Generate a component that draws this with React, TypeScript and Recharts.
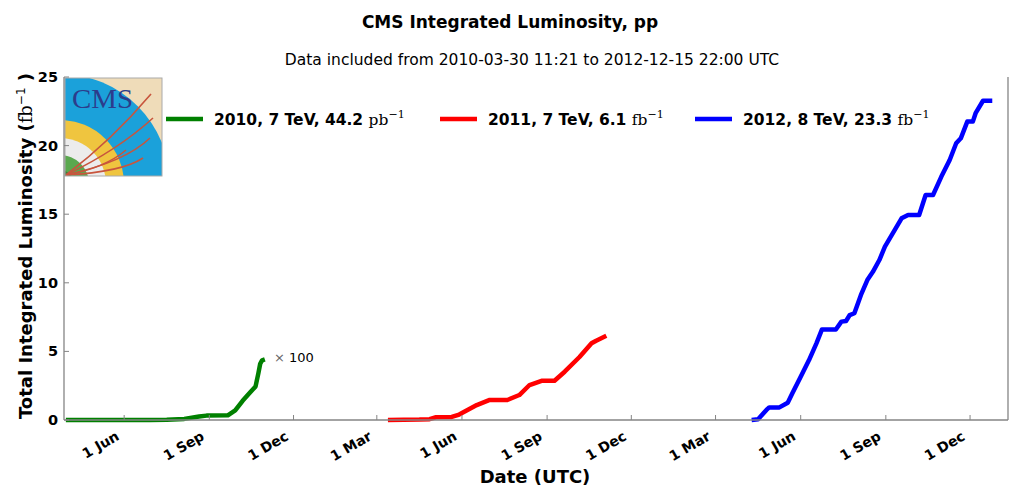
import React from 'react';
import { LineChart, Line, XAxis, YAxis, Customized } from 'recharts';

// ---------- data ----------
const dates2010 = ['2010-03-30','2010-06-29','2010-07-17','2010-08-05','2010-08-21','2010-08-29','2010-09-21','2010-09-29','2010-10-07','2010-10-15','2010-10-21','2010-10-24','2010-10-26','2010-10-28','2010-10-31'];
// 2010 values shown x100 (fb^-1 * 100)
const lumi2010x100 = [0, 0.005, 0.02, 0.08, 0.25, 0.32, 0.34, 0.7, 1.4, 2.0, 2.45, 3.4, 4.1, 4.35, 4.42];

const dates2011 = ['2011-03-13','2011-04-16','2011-04-27','2011-05-04','2011-05-21','2011-05-29','2011-06-17','2011-07-01','2011-07-20','2011-08-02','2011-08-13','2011-08-26','2011-09-09','2011-09-20','2011-10-06','2011-10-19','2011-10-24','2011-11-04'];
const lumi2011 = [0, 0.03, 0.06, 0.2, 0.22, 0.4, 1.09, 1.46, 1.46, 1.82, 2.55, 2.86, 2.86, 3.52, 4.59, 5.59, 5.78, 6.14];

const dates2012 = ['2012-04-09','2012-04-16','2012-04-25','2012-04-28','2012-05-09','2012-05-18','2012-05-23','2012-06-01','2012-06-10','2012-06-18','2012-06-24','2012-07-09','2012-07-15','2012-07-20','2012-07-24','2012-07-29','2012-08-05','2012-08-12','2012-08-18','2012-08-25','2012-08-31','2012-09-18','2012-09-25','2012-10-07','2012-10-14','2012-10-22','2012-10-31','2012-11-09','2012-11-16','2012-11-21','2012-11-28','2012-12-04','2012-12-07','2012-12-15','2012-12-25'];
const lumi2012 = [0, 0.05, 0.73, 0.92, 0.92, 1.26, 1.95, 3.16, 4.37, 5.59, 6.6, 6.6, 7.17, 7.22, 7.65, 7.78, 9.1, 10.2, 10.8, 11.66, 12.63, 14.7, 14.94, 14.94, 16.4, 16.4, 17.74, 18.95, 20.17, 20.53, 21.75, 21.75, 22.36, 23.27, 23.27];

const xTickDates = ['2010-06-01','2010-09-01','2010-12-01','2011-03-01','2011-06-01','2011-09-01','2011-12-01','2012-03-01','2012-06-01','2012-09-01','2012-12-01'];
const xTickLabels = ['1 Jun','1 Sep','1 Dec','1 Mar','1 Jun','1 Sep','1 Dec','1 Mar','1 Jun','1 Sep','1 Dec'];
const xDomainDates = ['2010-03-28', '2013-01-11'];
const yTicks = [0, 5, 10, 15, 20, 25];

const seriesNames = ['2010, 7 TeV, 44.2', '2011, 7 TeV, 6.1', '2012, 8 TeV, 23.3'];
const seriesUnits = ['pb', 'fb', 'fb'];
const seriesColors = ['#008000', '#ff0000', '#0000ff'];

// ---------- helpers ----------
const EPOCH = Date.UTC(2010, 5, 1);
const toDay = (s: string) => (Date.parse(s + 'T00:00:00Z') - EPOCH) / 86400000;
const mk = (ds: string[], vs: number[]) => ds.map((d, i) => ({ day: toDay(d), v: vs[i] }));

const data2010 = mk(dates2010, lumi2010x100);
const data2011 = mk(dates2011, lumi2011);
const data2012 = mk(dates2012, lumi2012);
const xTicks = xTickDates.map(toDay);
const xDomain = xDomainDates.map(toDay);

const AXIS = '#858585';
const FONT = '"DejaVu Sans", sans-serif';
const SERIF = '"DejaVu Serif", serif';

const labelFor = (v: number) => {
  const i = xTicks.findIndex((t) => Math.abs(t - v) < 0.01);
  return i >= 0 ? xTickLabels[i] : '';
};

const BottomTick = (p: any) => (
  <g>
    <line x1={p.x} x2={p.x} y1={p.y} y2={p.y - 5} stroke={AXIS} strokeWidth={1} />
    <text transform={`translate(${p.x - 4},${p.y + 19}) rotate(-30)`} textAnchor="end" fontFamily={FONT} fontWeight="bold" fontSize={14} fill="#000">
      {labelFor(p.payload.value)}
    </text>
  </g>
);
const TopTick = (p: any) => (
  <line x1={p.x} x2={p.x} y1={p.y} y2={p.y + 5} stroke={AXIS} strokeWidth={1} />
);
const LeftTick = (p: any) => (
  <g>
    <line x1={p.x} x2={p.x + 5} y1={p.y} y2={p.y} stroke={AXIS} strokeWidth={1} />
    <text x={p.x - 6} y={p.y + 5} textAnchor="end" fontFamily={FONT} fontWeight="bold" fontSize={14.5} fill="#000">{p.payload.value}</text>
  </g>
);
const RightTick = (p: any) => (
  <g>
    <line x1={p.x} x2={p.x - 5} y1={p.y} y2={p.y} stroke={AXIS} strokeWidth={1} />
    <text x={p.x + 5} y={p.y + 5} textAnchor="start" fontFamily={FONT} fontWeight="bold" fontSize={14.5} fill="#000">{p.payload.value}</text>
  </g>
);

const legendX = [166, 440, 695];

const Overlay = () => (
  <g fontFamily={FONT} fill="#000">
    <text x={510} y={28} textAnchor="middle" fontWeight="bold" fontSize={17}>CMS Integrated Luminosity, pp</text>
    <text x={532} y={65} textAnchor="middle" fontSize={15.5}>Data included from 2010-03-30 11:21 to 2012-12-15 22:00 UTC</text>
    <text x={535} y={483} textAnchor="middle" fontWeight="bold" fontSize={18}>Date (UTC)</text>
    <text transform="translate(32,246) rotate(-90)" textAnchor="middle" fontWeight="bold" fontSize={18}>
      Total Integrated Luminosity (<tspan fontFamily={SERIF} fontWeight="normal">fb</tspan>
      <tspan dy={-7} fontSize={12} fontWeight="normal">−1</tspan>
      <tspan dy={7}> )</tspan>
    </text>
    {/* legend */}
    {seriesNames.map((n, i) => (
      <g key={n}>
        <line x1={legendX[i]} x2={legendX[i] + 37} y1={119} y2={119} stroke={seriesColors[i]} strokeWidth={4.5} />
        <text x={legendX[i] + 48} y={125} fontWeight="bold" fontSize={15.5}>
          {n} <tspan fontFamily={SERIF} fontWeight="normal">{seriesUnits[i]}</tspan>
          <tspan dy={-7} fontSize={11} fontFamily={SERIF} fontWeight="normal">−1</tspan>
        </text>
      </g>
    ))}
    {/* x100 note */}
    <text x={274} y={362} fontSize={13}>
      <tspan fill="#666">×</tspan> 100
    </text>
    {/* CMS logo */}
    <defs>
      <clipPath id="logoClip">
        <rect x={65} y={78} width={97} height={98} />
      </clipPath>
    </defs>
    <g clipPath="url(#logoClip)">
      <rect x={65} y={78} width={97} height={98} fill="#efdcb9" />
      <circle cx={60} cy={184} r={110} fill="#1ba1da" />
      <circle cx={60} cy={184} r={64} fill="#efc53f" />
      <circle cx={60} cy={184} r={46} fill="#ececec" />
      <circle cx={60} cy={184} r={29} fill="#5aa84e" />
      <circle cx={60} cy={184} r={14} fill="#3f7f3a" />
      <g fill="none" stroke="#c8553d" strokeWidth={1.6}>
        <path d="M66 175 Q112 140 151 94" />
        <path d="M66 175 Q118 150 153 118" />
        <path d="M66 175 Q125 162 150 138" />
        <path d="M66 175 Q122 172 143 158" />
        <path d="M66 175 Q105 168 126 150" />
      </g>
      <text x={72} y={108} fontFamily='"Liberation Serif", "DejaVu Serif", serif' fontSize={27} fill="#2c3c8c" textLength={61} lengthAdjust="spacingAndGlyphs">CMS</text>
    </g>
    <rect x={65} y={78} width={97} height={98} fill="none" stroke="#aaa" strokeWidth={1} />
  </g>
);

export default function App() {
  return (
    <div style={{ position: 'absolute', left: 0, top: 0, width: 1036, height: 487, background: '#fff' }}>
      <LineChart width={1036} height={487} margin={{ top: 77, right: 4, bottom: 17, left: 20 }}>
        <XAxis
          xAxisId="bottom"
          dataKey="day"
          type="number"
          domain={xDomain}
          ticks={xTicks}
          interval={0}
          allowDataOverflow
          height={50}
          tickSize={0}
          tickMargin={0}
          tick={<BottomTick />}
          axisLine={{ stroke: AXIS, strokeWidth: 1.3 }}
        />
        <XAxis
          xAxisId="top"
          orientation="top"
          dataKey="day"
          type="number"
          domain={xDomain}
          ticks={xTicks}
          interval={0}
          allowDataOverflow
          height={0}
          tickSize={0}
          tickMargin={0}
          tick={<TopTick />}
          axisLine={{ stroke: AXIS, strokeWidth: 1.3 }}
        />
        <YAxis
          yAxisId="left"
          orientation="left"
          type="number"
          domain={[0, 25]}
          ticks={yTicks}
          interval={0}
          width={44}
          tickSize={0}
          tickMargin={0}
          tick={<LeftTick />}
          axisLine={{ stroke: AXIS, strokeWidth: 1.3 }}
        />
        <YAxis
          yAxisId="right"
          orientation="right"
          type="number"
          domain={[0, 25]}
          ticks={yTicks}
          interval={0}
          width={24}
          tickSize={0}
          tickMargin={0}
          tick={<RightTick />}
          axisLine={{ stroke: AXIS, strokeWidth: 1.3 }}
        />
        <Line data={data2010} xAxisId="bottom" yAxisId="left" dataKey="v" type="linear" stroke={seriesColors[0]} strokeWidth={4.5} strokeLinejoin="round" dot={false} isAnimationActive={false} />
        <Line data={data2011} xAxisId="bottom" yAxisId="left" dataKey="v" type="linear" stroke={seriesColors[1]} strokeWidth={4.5} strokeLinejoin="round" dot={false} isAnimationActive={false} />
        <Line data={data2012} xAxisId="bottom" yAxisId="left" dataKey="v" type="linear" stroke={seriesColors[2]} strokeWidth={4.5} strokeLinejoin="round" dot={false} isAnimationActive={false} />
        <Customized component={Overlay} />
      </LineChart>
    </div>
  );
}
